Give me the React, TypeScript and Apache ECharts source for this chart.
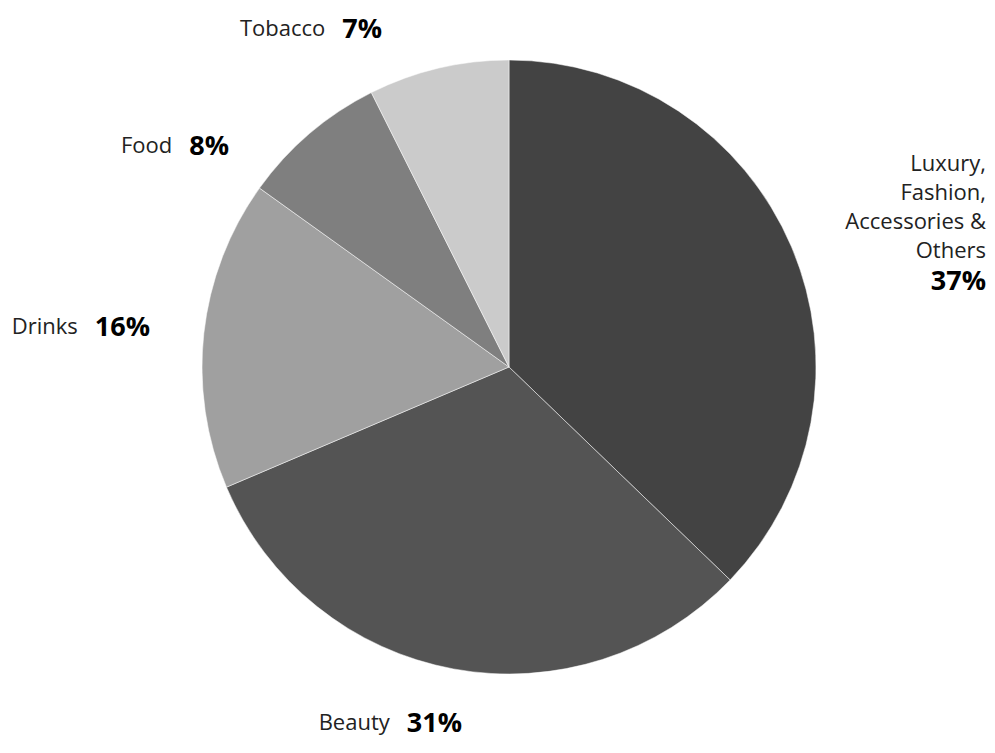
import React, { useEffect, useRef } from "react";
import * as echarts from "echarts";

// Data
const categories = ["Luxury,\nFashion,\nAccessories &\nOthers", "Beauty", "Drinks", "Food", "Tobacco"];
const shares = [37.2, 31.4, 16.3, 7.7, 7.4];

// Styles
const sliceColors = ["#434343", "#545454", "#a0a0a0", "#7f7f7f", "#cbcbcb"];
const labelAnchors = [
  { x: 986, y: 221, align: "right" },
  { x: 462, y: 721, align: "right" },
  { x: 150, y: 325, align: "right" },
  { x: 229, y: 144, align: "right" },
  { x: 382, y: 27, align: "right" },
];
const FONT = "'Open Sans', 'Noto Sans', sans-serif";

export default function App() {
  const ref = useRef<HTMLDivElement>(null);
  useEffect(() => {
    if (!ref.current) return;
    const chart = echarts.init(ref.current, null, { renderer: "svg" });
    const option: any = {
      animation: false,
      backgroundColor: "#ffffff",
      series: [
        {
          type: "pie",
          center: [509, 367],
          radius: [0, 307],
          startAngle: 90,
          clockwise: true,
          avoidLabelOverlap: false,
          itemStyle: { borderColor: "#ffffff", borderWidth: 0.5 },
          labelLine: { show: false },
          label: {
            show: true,
            position: "outside",
            fontFamily: FONT,
            formatter: (p: any) => {
              const pct = Math.round(p.value) + "%";
              const lines = String(p.name).split("\n");
              if (lines.length > 1) {
                return lines.map((l) => `{n|${l}}`).join("\n") + `\n{p|${pct}}`;
              }
              return `{n|${lines[0]}}{g|}{p|${pct}}`;
            },
            rich: {
              n: { fontFamily: FONT, fontSize: 22, color: "#222222", lineHeight: 29 },
              g: { width: 17 },
              p: { fontFamily: FONT, fontSize: 27, fontWeight: "bold", color: "#000000", lineHeight: 31 },
            },
          },
          labelLayout: (params: any) => {
            const a = labelAnchors[params.dataIndex];
            return { x: a.x, y: a.y, align: a.align, verticalAlign: "middle", hideOverlap: false, moveOverlap: null };
          },
          data: categories.map((name, i) => ({
            name,
            value: shares[i],
            itemStyle: { color: sliceColors[i] },
          })),
        },
      ],
    };
    chart.setOption(option);
    return () => chart.dispose();
  }, []);
  return (
    <div
      ref={ref}
      style={{ position: "fixed", left: 0, top: 0, width: 995, height: 753, background: "#fff" }}
    />
  );
}
